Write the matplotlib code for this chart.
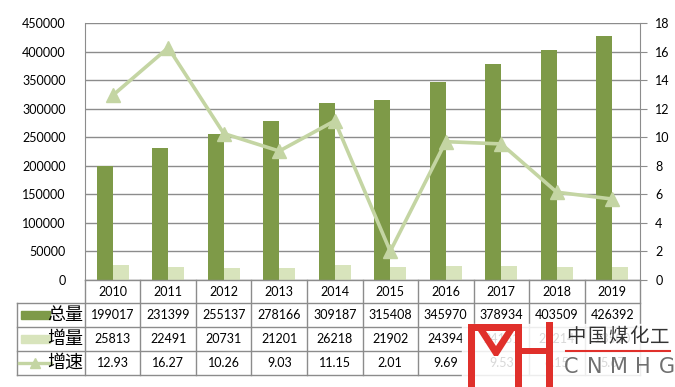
import matplotlib
matplotlib.use("Agg")
import matplotlib.pyplot as plt
import numpy as np
from matplotlib.transforms import blended_transform_factory
from matplotlib.patches import Rectangle, Polygon
from matplotlib import font_manager

years = ["2010", "2011", "2012", "2013", "2014", "2015", "2016", "2017", "2018", "2019"]
total = [199017, 231399, 255137, 278166, 309187, 315408, 345970, 378934, 403509, 426392]
increment = [25813, 22491, 20731, 21201, 26218, 21902, 24394, 24161, 22214, 23500]
growth = [12.93, 16.27, 10.26, 9.03, 11.15, 2.01, 9.69, 9.53, 6.15, 5.67]
row_labels = ["总量", "增量", "增速"]
left_ticks = [0, 50000, 100000, 150000, 200000, 250000, 300000, 350000, 400000, 450000]
right_ticks = [0, 2, 4, 6, 8, 10, 12, 14, 16, 18]

C_DARK = "#7E9A48"
C_LIGHT = "#D8E4BC"
C_LINE = "#C4D5A3"
C_GRID = "#8C8C8C"

plt.rcParams['font.family'] = ['Noto Sans CJK SC', 'DejaVu Sans']

names = {f.name for f in font_manager.fontManager.ttflist}
if 'Liberation Sans Narrow' in names:
    NUMF, NFS, TFS = 'Liberation Sans Narrow', 10.5, 10.5
else:
    NUMF, NFS, TFS = 'Lato', 9.0, 9.0

W, H = 675, 387
fig = plt.figure(figsize=(W / 100, H / 100), dpi=100)
fig.patch.set_facecolor("white")

L, R, T, B = 85, 640, 23, 280
ax = fig.add_axes([L / W, 1 - B / H, (R - L) / W, (B - T) / H])
x = np.arange(len(years))
bw = 0.29
ax.bar(x - bw / 2, total, width=bw, color=C_DARK, zorder=3)
ax.bar(x + bw / 2, increment, width=bw, color=C_LIGHT, zorder=3)
ax.set_xlim(-0.5, len(years) - 0.5)
ax.set_ylim(0, 450000)
ax.set_yticks(left_ticks)
ax.set_yticklabels([str(v) for v in left_ticks], fontsize=TFS, family=NUMF)
ax.tick_params(axis='y', length=0, pad=14, colors='black')
ax.set_xticks([])
ax.grid(axis='y', color=C_GRID, lw=1, zorder=0)
for s in ['top', 'bottom', 'right']:
    ax.spines[s].set_visible(False)
ax.spines['left'].set_color(C_GRID)

ax2 = ax.twinx()
ax2.plot(x, growth, color=C_LINE, lw=2.6, marker='^', markersize=10, zorder=5)
ax2.set_ylim(0, 18)
ax2.set_yticks(right_ticks)
ax2.set_yticklabels([str(v) for v in right_ticks], fontsize=TFS, family=NUMF)
ax2.tick_params(axis='y', length=5, color=C_GRID, pad=6)
for s in ['top', 'bottom', 'left']:
    ax2.spines[s].set_visible(False)
ax2.spines['right'].set_color(C_GRID)

# overlay for table in pixel coords
ov = fig.add_axes([0, 0, 1, 1], facecolor='none')
ov.set_xlim(0, W)
ov.set_ylim(H, 0)
ov.axis('off')
bt = blended_transform_factory(ax.transData, ov.transData)

rows_y = [280, 303, 327, 351, 375]
n = len(years)
lc = C_GRID
ov.plot([L, R], [rows_y[0], rows_y[0]], color=lc, lw=1)
for yy in rows_y[1:]:
    ov.plot([17, R], [yy, yy], color=lc, lw=1)
for i in range(n + 1):
    ov.plot([i - 0.5, i - 0.5], [rows_y[0], rows_y[-1]], color=lc, lw=1, transform=bt)
ov.plot([17, 17], [rows_y[1], rows_y[-1]], color=lc, lw=1)

for i, yr in enumerate(years):
    ov.text(i, (rows_y[0] + rows_y[1]) / 2, yr, transform=bt, ha='center', va='center',
            fontsize=NFS, family=NUMF)
data_rows = [[str(v) for v in total], [str(v) for v in increment], [f"{v:.2f}" for v in growth]]
for r, vals in enumerate(data_rows):
    yc = (rows_y[r + 1] + rows_y[r + 2]) / 2
    for i, s in enumerate(vals):
        ov.text(i, yc, s, transform=bt, ha='center', va='center', fontsize=NFS, family=NUMF,
                zorder=2)
    ov.text(83, yc, row_labels[r], ha='right', va='center', fontsize=13)

# legend keys
y1 = (rows_y[1] + rows_y[2]) / 2
ov.add_patch(Rectangle((21, y1 - 4), 29, 8, color=C_DARK))
y2 = (rows_y[2] + rows_y[3]) / 2
ov.add_patch(Rectangle((21, y2 - 4), 29, 8, color=C_LIGHT))
y3 = (rows_y[3] + rows_y[4]) / 2
ov.plot([19, 51], [y3, y3], color=C_LINE, lw=2.4)
ov.plot([35], [y3], color=C_LINE, marker='^', markersize=7)

# watermark
ov.add_patch(Rectangle((462, 324), 213, 63, color='white', alpha=0.85, zorder=6))
red = "#E0302B"
for (x0, y0, w, h) in [(468, 324, 7, 63), (468, 324, 54, 7), (515, 324, 7, 63),
                       (522, 348, 24, 6), (546, 322, 7, 65)]:
    ov.add_patch(Rectangle((x0, y0), w, h, color=red, zorder=7, lw=0))
ov.add_patch(Polygon([(478, 331), (486, 331), (496, 346), (506, 331), (514, 331), (498, 356), (494, 356)],
                     closed=True, color=red, zorder=7, lw=0))
for k, ch in enumerate("中国煤化工"):
    ov.text(576 + 21 * k, 337, ch, fontsize=14, color='#333333', va='center', ha='center', zorder=8)
ov.plot([566, 670], [351, 351], color=red, lw=1.5, zorder=8)
for k, ch in enumerate("CNMHG"):
    ov.text(571 + 24 * k, 367, ch, fontsize=15, color='#707070', va='center', ha='center',
            family='DejaVu Sans', zorder=8)

fig.savefig("out.png", dpi=100)
